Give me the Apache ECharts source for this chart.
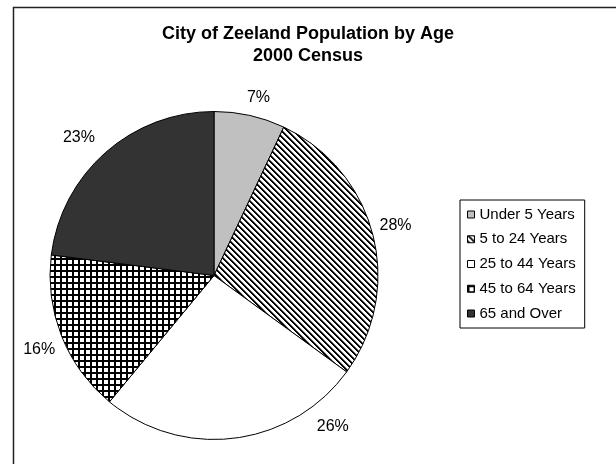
<!DOCTYPE html>
<html><head><meta charset="utf-8">
<script src="https://cdn.jsdelivr.net/npm/echarts@6/dist/echarts.min.js"></script>
<style>html,body{margin:0;padding:0;background:#fff}#c{width:616px;height:464px}</style>
</head><body><div id="c"></div>
<script>
const categories = ['Under 5 Years', '5 to 24 Years', '25 to 44 Years', '45 to 64 Years', '65 and Over'];
const values = [7, 28, 26, 16, 23];
const titleLines = ['City of Zeeland Population by Age', '2000 Census'];
// nudges applied to the library-computed label positions (to mimic the original's placement)
const labelNudges = [[-10, -8], [-8, -7], [76, -22], [8, 10], [1, -7]];

function makeTile(kind) {
  const n = 6;
  const c = document.createElement('canvas');
  c.width = n; c.height = n;
  const g = c.getContext('2d');
  g.fillStyle = '#fff'; g.fillRect(0, 0, n, n);
  for (let x = 0; x < n; x++) for (let y = 0; y < n; y++) {
    let col = null;
    if (kind === 'diag') {
      const d = ((x - y) % n + n) % n;
      if (d < 2) col = '#000'; else if (d === 2) col = '#777';
    } else if (kind === 'grid') {
      if (x < 2 || y < 2) col = '#000';
    }
    if (col) { g.fillStyle = col; g.fillRect(x, y, 1, 1); }
  }
  return { image: c, repeat: 'repeat' };
}
const fills = ['#c0c0c0', makeTile('diag'), '#ffffff', makeTile('grid'), '#333333'];
const FONT = 'Liberation Sans, Arial, sans-serif';

const chart = echarts.init(document.getElementById('c'), null, { renderer: 'canvas' });
chart.setOption({
  backgroundColor: '#fff',
  animation: false,
  graphic: [{
    type: 'rect', left: 11, top: 5, shape: { width: 640, height: 480 },
    style: { fill: 'none', stroke: '#222', lineWidth: 1.5 }, z: -1
  }],
  title: {
    text: titleLines.join('\n'), left: 'center', top: 18,
    textStyle: { fontFamily: FONT, fontSize: 18, fontWeight: 'bold', color: '#000', lineHeight: 22 }
  },
  legend: {
    orient: 'vertical', left: 460, top: 200,
    data: categories,
    icon: 'rect', itemWidth: 7, itemHeight: 7, itemGap: 7.75,
    padding: [6, 9, 6, 7],
    borderColor: '#000', borderWidth: 1,
    itemStyle: { borderColor: '#000', borderWidth: 1 },
    textStyle: { fontFamily: FONT, fontSize: 15, color: '#000', lineHeight: 17 }
  },
  series: [{
    type: 'pie',
    center: [214, 275.5], radius: 164,
    startAngle: 90, clockwise: true,
    avoidLabelOverlap: false,
    data: categories.map((n, i) => ({ name: n, value: values[i], itemStyle: { color: fills[i] } })),
    itemStyle: { borderColor: '#000', borderWidth: 1 },
    label: {
      show: true, position: 'outside', formatter: p => Math.round(p.percent) + '%',
      fontFamily: FONT, fontSize: 16, color: '#000'
    },
    labelLine: { show: false, length: 10, length2: 0 },
    labelLayout: p => ({ dx: labelNudges[p.dataIndex][0], dy: labelNudges[p.dataIndex][1] }),
    emphasis: { disabled: true }
  }]
});
</script></body></html>
